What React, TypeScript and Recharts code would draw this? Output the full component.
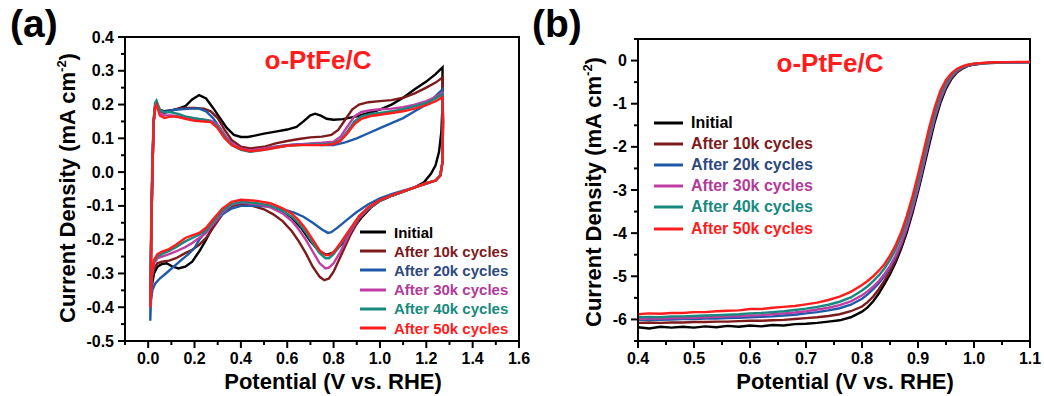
import React from 'react';
import { LineChart, Line, XAxis, YAxis, ReferenceArea } from 'recharts';

const FONT = '"Liberation Sans", Arial, Helvetica, sans-serif';

// ---------- series meta ----------
const seriesNames = ['Initial', 'After 10k cycles', 'After 20k cycles', 'After 30k cycles', 'After 40k cycles', 'After 50k cycles'];
const lineColors = ['#000000', '#7d1a1c', '#1f5aa8', '#c23ca4', '#17897e', '#ff1c1c'];
const textColors = ['#000000', '#7d1a1c', '#2c4a80', '#b23a9a', '#17897e', '#ff1c1c'];
const panelTitle = 'o-PtFe/C';

// ---------- tick values ----------
const cvXMajor = [0, 0.2, 0.4, 0.6, 0.8, 1.0, 1.2, 1.4, 1.6];
const cvXMinor = [-0.1, 0.1, 0.3, 0.5, 0.7, 0.9, 1.1, 1.3, 1.5];
const cvYMajor = [-0.5, -0.4, -0.3, -0.2, -0.1, 0, 0.1, 0.2, 0.3, 0.4];
const cvYMinor = [-0.45, -0.35, -0.25, -0.15, -0.05, 0.05, 0.15, 0.25, 0.35];
const lsvXMajor = [0.4, 0.5, 0.6, 0.7, 0.8, 0.9, 1.0, 1.1];
const lsvXMinor = [0.45, 0.55, 0.65, 0.75, 0.85, 0.95, 1.05];
const lsvYMajor = [-6, -5, -4, -3, -2, -1, 0];
const lsvYMinor = [-6.5, -5.5, -4.5, -3.5, -2.5, -1.5, -0.5, 0.5];

// ---------- (a) CV loops: [potential, current density] ----------
const cvInitial: [number, number][] = [
  [0.010, -0.39], [0.013, -0.2], [0.018, 0.0], [0.024, 0.15], [0.030, 0.195], [0.037, 0.2], [0.05, 0.185], [0.07, 0.18],
  [0.10, 0.183], [0.13, 0.188], [0.16, 0.195], [0.19, 0.215], [0.22, 0.228], [0.25, 0.218], [0.28, 0.19], [0.31, 0.16],
  [0.34, 0.13], [0.37, 0.11], [0.40, 0.104], [0.43, 0.104], [0.46, 0.108], [0.50, 0.114], [0.55, 0.12], [0.60, 0.126],
  [0.64, 0.134], [0.67, 0.15], [0.70, 0.168], [0.72, 0.173], [0.745, 0.167], [0.77, 0.158], [0.80, 0.155], [0.84, 0.157],
  [0.90, 0.165], [0.95, 0.175], [1.0, 0.185], [1.05, 0.2], [1.1, 0.22], [1.15, 0.245], [1.2, 0.268], [1.24, 0.29],
  [1.27, 0.31], [1.27, 0.2], [1.265, 0.12], [1.255, 0.06], [1.24, 0.02], [1.22, -0.005], [1.19, -0.03], [1.15, -0.045],
  [1.1, -0.058], [1.05, -0.07], [1.0, -0.085], [0.96, -0.105], [0.92, -0.135], [0.88, -0.17], [0.84, -0.21], [0.80, -0.238],
  [0.77, -0.245], [0.74, -0.235], [0.70, -0.205], [0.66, -0.165], [0.62, -0.135], [0.58, -0.115], [0.52, -0.1], [0.46, -0.092],
  [0.40, -0.09], [0.36, -0.1], [0.32, -0.125], [0.28, -0.16], [0.25, -0.2], [0.22, -0.235], [0.19, -0.265], [0.16, -0.28],
  [0.13, -0.285], [0.10, -0.278], [0.08, -0.27], [0.06, -0.272], [0.04, -0.28], [0.025, -0.3], [0.015, -0.34], [0.010, -0.39],
];
const cv10k: [number, number][] = [
  [0.010, -0.38], [0.013, -0.2], [0.018, 0.0], [0.024, 0.15], [0.030, 0.19], [0.036, 0.2], [0.05, 0.18], [0.07, 0.175],
  [0.10, 0.182], [0.13, 0.188], [0.16, 0.19], [0.20, 0.19], [0.24, 0.188], [0.27, 0.18], [0.30, 0.16], [0.33, 0.125],
  [0.36, 0.095], [0.40, 0.075], [0.44, 0.07], [0.50, 0.075], [0.55, 0.085], [0.60, 0.092], [0.65, 0.098], [0.70, 0.103],
  [0.75, 0.105], [0.79, 0.11], [0.82, 0.125], [0.85, 0.155], [0.88, 0.185], [0.91, 0.2], [0.95, 0.207], [1.0, 0.21],
  [1.05, 0.213], [1.1, 0.22], [1.15, 0.233], [1.2, 0.25], [1.24, 0.265], [1.27, 0.28], [1.272, 0.15], [1.27, 0.03],
  [1.262, -0.01], [1.24, -0.025], [1.2, -0.033], [1.15, -0.045], [1.1, -0.058], [1.05, -0.07], [1.0, -0.085], [0.95, -0.11],
  [0.91, -0.14], [0.87, -0.19], [0.83, -0.25], [0.80, -0.295], [0.78, -0.315], [0.76, -0.32], [0.74, -0.31], [0.71, -0.28],
  [0.68, -0.24], [0.65, -0.205], [0.62, -0.175], [0.58, -0.145], [0.54, -0.125], [0.50, -0.11], [0.45, -0.1], [0.40, -0.095],
  [0.36, -0.1], [0.32, -0.125], [0.28, -0.165], [0.25, -0.195], [0.22, -0.215], [0.19, -0.23], [0.16, -0.24], [0.12, -0.255],
  [0.09, -0.262], [0.06, -0.265], [0.04, -0.27], [0.025, -0.285], [0.015, -0.32], [0.010, -0.38],
];
const cv20k: [number, number][] = [
  [0.009, -0.44], [0.012, -0.2], [0.017, 0.0], [0.023, 0.15], [0.030, 0.195], [0.036, 0.205], [0.05, 0.18], [0.07, 0.178],
  [0.10, 0.183], [0.14, 0.186], [0.18, 0.188], [0.22, 0.188], [0.25, 0.18], [0.28, 0.16], [0.31, 0.13], [0.34, 0.1],
  [0.37, 0.08], [0.40, 0.068], [0.44, 0.062], [0.50, 0.068], [0.55, 0.075], [0.60, 0.08], [0.65, 0.083], [0.70, 0.083],
  [0.75, 0.08], [0.80, 0.08], [0.85, 0.088], [0.90, 0.1], [0.95, 0.115], [1.0, 0.13], [1.05, 0.145], [1.1, 0.16],
  [1.15, 0.18], [1.2, 0.2], [1.24, 0.225], [1.27, 0.245], [1.272, 0.15], [1.27, 0.03], [1.26, -0.01], [1.24, -0.025],
  [1.2, -0.035], [1.15, -0.045], [1.1, -0.055], [1.05, -0.065], [1.0, -0.078], [0.95, -0.095], [0.9, -0.118], [0.86, -0.14],
  [0.82, -0.163], [0.79, -0.178], [0.775, -0.18], [0.75, -0.17], [0.71, -0.15], [0.67, -0.132], [0.63, -0.12], [0.58, -0.11],
  [0.52, -0.102], [0.46, -0.1], [0.40, -0.1], [0.36, -0.108], [0.32, -0.125], [0.28, -0.15], [0.25, -0.175], [0.22, -0.2],
  [0.2, -0.225], [0.17, -0.245], [0.14, -0.262], [0.11, -0.28], [0.08, -0.298], [0.05, -0.315], [0.03, -0.33], [0.018, -0.35],
  [0.012, -0.38], [0.009, -0.44],
];
const cv30k: [number, number][] = [
  [0.010, -0.4], [0.013, -0.2], [0.018, 0.0], [0.024, 0.15], [0.030, 0.195], [0.036, 0.205], [0.05, 0.175], [0.07, 0.168],
  [0.10, 0.168], [0.13, 0.165], [0.16, 0.16], [0.20, 0.158], [0.24, 0.155], [0.27, 0.152], [0.30, 0.14], [0.33, 0.11],
  [0.36, 0.085], [0.40, 0.07], [0.44, 0.064], [0.50, 0.07], [0.55, 0.075], [0.60, 0.08], [0.65, 0.082], [0.70, 0.085],
  [0.75, 0.087], [0.80, 0.09], [0.83, 0.105], [0.86, 0.135], [0.89, 0.165], [0.92, 0.178], [0.96, 0.183], [1.0, 0.186],
  [1.05, 0.188], [1.1, 0.192], [1.15, 0.2], [1.2, 0.21], [1.24, 0.222], [1.27, 0.235], [1.272, 0.15], [1.27, 0.03],
  [1.26, -0.01], [1.24, -0.025], [1.2, -0.033], [1.15, -0.045], [1.1, -0.058], [1.05, -0.07], [1.0, -0.085], [0.95, -0.108],
  [0.91, -0.135], [0.87, -0.18], [0.83, -0.235], [0.80, -0.27], [0.78, -0.283], [0.765, -0.285], [0.74, -0.27], [0.71, -0.235],
  [0.68, -0.2], [0.65, -0.17], [0.62, -0.145], [0.58, -0.122], [0.53, -0.105], [0.47, -0.095], [0.40, -0.09], [0.36, -0.097],
  [0.32, -0.12], [0.28, -0.155], [0.25, -0.18], [0.22, -0.195], [0.19, -0.21], [0.16, -0.222], [0.12, -0.235], [0.09, -0.243],
  [0.06, -0.25], [0.04, -0.255], [0.025, -0.27], [0.015, -0.31], [0.010, -0.4],
];
const cv40k: [number, number][] = [
  [0.010, -0.39], [0.013, -0.2], [0.018, 0.0], [0.024, 0.16], [0.030, 0.205], [0.036, 0.212], [0.05, 0.185], [0.07, 0.178],
  [0.10, 0.177], [0.13, 0.172], [0.16, 0.165], [0.20, 0.16], [0.24, 0.155], [0.27, 0.15], [0.30, 0.135], [0.33, 0.105],
  [0.36, 0.08], [0.40, 0.066], [0.44, 0.06], [0.50, 0.066], [0.55, 0.073], [0.60, 0.078], [0.65, 0.08], [0.70, 0.082],
  [0.75, 0.083], [0.80, 0.085], [0.83, 0.095], [0.86, 0.12], [0.89, 0.15], [0.92, 0.165], [0.96, 0.172], [1.0, 0.175],
  [1.05, 0.18], [1.1, 0.186], [1.15, 0.195], [1.2, 0.205], [1.24, 0.218], [1.27, 0.23], [1.272, 0.15], [1.27, 0.03],
  [1.26, -0.01], [1.24, -0.025], [1.2, -0.033], [1.15, -0.045], [1.1, -0.058], [1.05, -0.07], [1.0, -0.085], [0.95, -0.106],
  [0.91, -0.132], [0.87, -0.172], [0.83, -0.215], [0.80, -0.243], [0.78, -0.255], [0.765, -0.255], [0.74, -0.24], [0.71, -0.21],
  [0.68, -0.178], [0.65, -0.152], [0.62, -0.132], [0.58, -0.115], [0.53, -0.1], [0.47, -0.092], [0.40, -0.088], [0.36, -0.095],
  [0.32, -0.115], [0.28, -0.148], [0.25, -0.172], [0.22, -0.185], [0.19, -0.195], [0.16, -0.205], [0.12, -0.222], [0.09, -0.233],
  [0.06, -0.242], [0.04, -0.25], [0.025, -0.265], [0.015, -0.3], [0.010, -0.39],
];
const cv50k: [number, number][] = [
  [0.010, -0.4], [0.013, -0.2], [0.018, 0.0], [0.024, 0.15], [0.030, 0.192], [0.036, 0.2], [0.05, 0.168], [0.07, 0.16],
  [0.10, 0.165], [0.13, 0.163], [0.16, 0.158], [0.20, 0.152], [0.24, 0.15], [0.27, 0.148], [0.30, 0.13], [0.33, 0.1],
  [0.36, 0.08], [0.40, 0.068], [0.44, 0.062], [0.50, 0.066], [0.55, 0.072], [0.60, 0.078], [0.65, 0.08], [0.70, 0.08],
  [0.75, 0.08], [0.80, 0.083], [0.83, 0.093], [0.86, 0.115], [0.89, 0.142], [0.92, 0.158], [0.96, 0.166], [1.0, 0.17],
  [1.05, 0.175], [1.1, 0.18], [1.15, 0.188], [1.2, 0.198], [1.24, 0.21], [1.27, 0.222], [1.272, 0.15], [1.27, 0.03],
  [1.26, -0.01], [1.24, -0.025], [1.2, -0.033], [1.15, -0.045], [1.1, -0.057], [1.05, -0.069], [1.0, -0.083], [0.95, -0.104],
  [0.91, -0.13], [0.87, -0.17], [0.83, -0.21], [0.80, -0.237], [0.78, -0.246], [0.765, -0.245], [0.74, -0.232], [0.71, -0.2],
  [0.68, -0.168], [0.65, -0.143], [0.62, -0.123], [0.58, -0.107], [0.53, -0.093], [0.47, -0.085], [0.40, -0.082], [0.36, -0.088],
  [0.32, -0.108], [0.28, -0.14], [0.25, -0.165], [0.22, -0.18], [0.19, -0.187], [0.16, -0.195], [0.12, -0.215], [0.09, -0.228],
  [0.06, -0.235], [0.04, -0.243], [0.025, -0.26], [0.015, -0.3], [0.010, -0.4],
];

// ---------- (b) LSV curves ----------
const lsvX = [
  0.40, 0.42, 0.44, 0.46, 0.48, 0.50, 0.52, 0.54, 0.56, 0.58, 0.60, 0.62, 0.64, 0.66, 0.68, 0.70, 0.72, 0.74, 0.76, 0.78,
  0.80, 0.81, 0.82, 0.83, 0.84, 0.85, 0.86, 0.87, 0.88, 0.89, 0.90, 0.91, 0.92, 0.93, 0.94, 0.95, 0.96, 0.97, 0.98, 0.99, 1.00,
  1.02, 1.04, 1.06, 1.08, 1.10,
];
const lsvInitial = [
  -6.18, -6.21, -6.17, -6.19, -6.17, -6.19, -6.16, -6.18, -6.15, -6.17, -6.14, -6.16, -6.13, -6.14, -6.11, -6.10, -6.08, -6.05, -6.02, -5.95,
  -5.82, -5.72, -5.58, -5.40, -5.18, -4.95, -4.68, -4.36, -3.98, -3.54, -3.04, -2.50, -1.95, -1.42, -0.98, -0.65, -0.42, -0.27, -0.18, -0.12, -0.09,
  -0.06, -0.045, -0.04, -0.035, -0.035,
];
const lsv10k = [
  -6.08, -6.07, -6.08, -6.07, -6.07, -6.06, -6.06, -6.05, -6.05, -6.04, -6.03, -6.03, -6.02, -6.01, -5.99, -5.97, -5.95, -5.92, -5.88, -5.81,
  -5.70, -5.60, -5.47, -5.30, -5.10, -4.88, -4.62, -4.30, -3.92, -3.47, -2.96, -2.40, -1.85, -1.34, -0.92, -0.61, -0.40, -0.26, -0.17, -0.12, -0.09,
  -0.06, -0.05, -0.04, -0.04, -0.035,
];
const lsv20k = [
  -6.01, -6.00, -6.01, -6.00, -5.99, -5.99, -5.98, -5.98, -5.97, -5.96, -5.95, -5.94, -5.93, -5.91, -5.89, -5.86, -5.83, -5.79, -5.74, -5.66,
  -5.52, -5.42, -5.30, -5.16, -4.99, -4.79, -4.55, -4.25, -3.88, -3.44, -2.95, -2.40, -1.84, -1.32, -0.90, -0.58, -0.37, -0.24, -0.16, -0.11, -0.08,
  -0.06, -0.05, -0.04, -0.04, -0.035,
];
const lsv30k = [
  -5.99, -5.98, -5.98, -5.97, -5.97, -5.96, -5.95, -5.94, -5.93, -5.92, -5.91, -5.90, -5.88, -5.86, -5.84, -5.81, -5.77, -5.73, -5.67, -5.58,
  -5.44, -5.35, -5.24, -5.11, -4.95, -4.76, -4.52, -4.22, -3.86, -3.42, -2.93, -2.38, -1.82, -1.30, -0.88, -0.57, -0.36, -0.23, -0.15, -0.11, -0.08,
  -0.06, -0.05, -0.04, -0.04, -0.035,
];
const lsv40k = [
  -5.95, -5.94, -5.95, -5.93, -5.93, -5.92, -5.91, -5.90, -5.89, -5.88, -5.86, -5.85, -5.83, -5.81, -5.78, -5.75, -5.71, -5.66, -5.59, -5.49,
  -5.33, -5.23, -5.11, -4.98, -4.82, -4.62, -4.38, -4.08, -3.72, -3.28, -2.80, -2.25, -1.70, -1.20, -0.80, -0.52, -0.33, -0.21, -0.14, -0.10, -0.075,
  -0.055, -0.045, -0.04, -0.035, -0.035,
];
const lsv50k = [
  -5.88, -5.86, -5.87, -5.85, -5.85, -5.83, -5.83, -5.81, -5.80, -5.79, -5.76, -5.76, -5.73, -5.71, -5.69, -5.65, -5.61, -5.55, -5.47, -5.36,
  -5.20, -5.11, -5.00, -4.87, -4.72, -4.52, -4.28, -3.98, -3.60, -3.15, -2.65, -2.10, -1.55, -1.08, -0.70, -0.45, -0.29, -0.19, -0.13, -0.09, -0.07,
  -0.05, -0.04, -0.035, -0.03, -0.03,
];

const cvSeries = [cvInitial, cv10k, cv20k, cv30k, cv40k, cv50k];
const lsvSeries = [lsvInitial, lsv10k, lsv20k, lsv30k, lsv40k, lsv50k];

const cvData = cvSeries.map((s) => s.map(([x, y]) => ({ x, y })));
const lsvData = lsvX.map((x, i) => {
  const row: Record<string, number> = { x };
  lsvSeries.forEach((s, k) => {
    row['s' + k] = s[i];
  });
  return row;
});

const isIn = (arr: number[], v: number) => arr.some((m) => Math.abs(m - v) < 1e-6);

function makeXTick(majors: number[], fmt: (v: number) => string) {
  return (props: any) => {
    const { x, y, payload } = props;
    const v = payload.value;
    const major = isIn(majors, v);
    return (
      <g>
        <line x1={x} x2={x} y1={y} y2={y + (major ? 7 : 4)} stroke="#000" strokeWidth={2} />
        {major && (
          <text x={x} y={y + 23} textAnchor="middle" fontFamily={FONT} fontWeight="bold" fontSize={16} fill="#000">
            {fmt(v)}
          </text>
        )}
      </g>
    );
  };
}

function makeYTick(majors: number[], fmt: (v: number) => string) {
  return (props: any) => {
    const { x, y, payload } = props;
    const v = payload.value;
    const major = isIn(majors, v);
    return (
      <g>
        <line x1={x} x2={x - (major ? 7 : 4)} y1={y} y2={y} stroke="#000" strokeWidth={2} />
        {major && (
          <text x={x - 11} y={y + 5.5} textAnchor="end" fontFamily={FONT} fontWeight="bold" fontSize={16} fill="#000">
            {fmt(v)}
          </text>
        )}
      </g>
    );
  };
}

const fmt1 = (v: number) => (Math.abs(v) < 1e-9 ? '0.0' : v.toFixed(1));
const fmt0 = (v: number) => (Math.abs(v) < 1e-9 ? '0' : String(Math.round(v)));

const abs = (left: number, top: number): React.CSSProperties => ({ position: 'absolute', left, top });

function Legend({ left, top, gap, fontSize, lineLen }: { left: number; top: number; gap: number; fontSize: number; lineLen: number }) {
  return (
    <>
      {seriesNames.map((n, i) => (
        <div
          key={n}
          style={{
            ...abs(left, top + i * gap - 10),
            height: 20,
            display: 'flex',
            alignItems: 'center',
            whiteSpace: 'nowrap',
            fontFamily: FONT,
            fontWeight: 'bold',
            fontSize,
            color: textColors[i],
          }}
        >
          <svg width={lineLen} height={4} style={{ display: 'block' }}>
            <line x1={0} x2={lineLen} y1={2} y2={2} stroke={lineColors[i]} strokeWidth={3} />
          </svg>
          <span style={{ marginLeft: 8 }}>{n}</span>
        </div>
      ))}
    </>
  );
}

function YTitle({ cx, cy }: { cx: number; cy: number }) {
  return (
    <div
      style={{
        ...abs(cx, cy),
        transform: 'translate(-50%, -50%) rotate(-90deg)',
        whiteSpace: 'nowrap',
        fontFamily: FONT,
        fontWeight: 'bold',
        fontSize: 22,
        lineHeight: '26px',
      }}
    >
      Current Density (mA cm<span style={{ fontSize: 13, position: 'relative', top: -9 }}>-2</span>)
    </div>
  );
}

function XTitle({ cx, top }: { cx: number; top: number }) {
  return (
    <div
      style={{
        ...abs(cx, top),
        transform: 'translateX(-50%)',
        whiteSpace: 'nowrap',
        fontFamily: FONT,
        fontWeight: 'bold',
        fontSize: 22,
        lineHeight: '26px',
      }}
    >
      Potential (V vs. RHE)
    </div>
  );
}

function Title({ cx, top }: { cx: number; top: number }) {
  return (
    <div
      style={{
        ...abs(cx, top),
        transform: 'translateX(-50%)',
        whiteSpace: 'nowrap',
        fontFamily: FONT,
        fontWeight: 'bold',
        fontSize: 26,
        lineHeight: '30px',
        color: '#ff1c1c',
      }}
    >
      {panelTitle}
    </div>
  );
}

function PanelLabel({ left, text }: { left: number; text: string }) {
  return (
    <div style={{ ...abs(left, 1), fontFamily: FONT, fontWeight: 'bold', fontSize: 39, lineHeight: '46px' }}>{text}</div>
  );
}

export default function App() {
  return (
    <div style={{ position: 'absolute', left: 0, top: 0, width: 1044, height: 396, background: '#fff', overflow: 'hidden' }}>
      {/* Panel (a) */}
      <div style={{ ...abs(0, 0) }}>
        <LineChart width={545} height={396} margin={{ top: 37, right: 26, bottom: 15, left: 75 }}>
          <XAxis
            type="number"
            dataKey="x"
            domain={[-0.1, 1.6]}
            ticks={[...cvXMajor, ...cvXMinor].sort((a, b) => a - b)}
            interval={0}
            height={40}
            tickSize={0}
            tickMargin={0}
            tickLine={false}
            axisLine={{ stroke: '#000', strokeWidth: 2 }}
            tick={makeXTick(cvXMajor, fmt1)}
            allowDataOverflow
          />
          <YAxis
            type="number"
            domain={[-0.5, 0.4]}
            ticks={[...cvYMajor, ...cvYMinor].sort((a, b) => a - b)}
            interval={0}
            width={50}
            tickSize={0}
            tickMargin={0}
            tickLine={false}
            axisLine={{ stroke: '#000', strokeWidth: 2 }}
            tick={makeYTick(cvYMajor, fmt1)}
            allowDataOverflow
          />
          <ReferenceArea x1={-0.1} x2={1.6} y1={-0.5} y2={0.4} fill="none" stroke="#000" strokeWidth={2} ifOverflow="visible" />
          {cvData.map((d, i) => (
            <Line
              key={seriesNames[i]}
              data={d}
              dataKey="y"
              type="linear"
              stroke={lineColors[i]}
              strokeWidth={2.4}
              dot={false}
              isAnimationActive={false}
            />
          ))}
        </LineChart>
      </div>

      {/* Panel (b) */}
      <div style={{ ...abs(520, 0) }}>
        <LineChart width={524} height={396} data={lsvData} margin={{ top: 39, right: 14, bottom: 15, left: 68 }}>
          <XAxis
            type="number"
            dataKey="x"
            domain={[0.4, 1.1]}
            ticks={[...lsvXMajor, ...lsvXMinor].sort((a, b) => a - b)}
            interval={0}
            height={40}
            tickSize={0}
            tickMargin={0}
            tickLine={false}
            axisLine={{ stroke: '#000', strokeWidth: 2 }}
            tick={makeXTick(lsvXMajor, fmt1)}
            allowDataOverflow
          />
          <YAxis
            type="number"
            domain={[-6.5, 0.5]}
            ticks={[...lsvYMajor, ...lsvYMinor].sort((a, b) => a - b)}
            interval={0}
            width={50}
            tickSize={0}
            tickMargin={0}
            tickLine={false}
            axisLine={{ stroke: '#000', strokeWidth: 2 }}
            tick={makeYTick(lsvYMajor, fmt0)}
            allowDataOverflow
          />
          <ReferenceArea x1={0.4} x2={1.1} y1={-6.5} y2={0.5} fill="none" stroke="#000" strokeWidth={2} ifOverflow="visible" />
          {lsvSeries.map((_, i) => (
            <Line
              key={seriesNames[i]}
              dataKey={'s' + i}
              type="linear"
              stroke={lineColors[i]}
              strokeWidth={2.4}
              dot={false}
              isAnimationActive={false}
            />
          ))}
        </LineChart>
      </div>

      <PanelLabel left={10} text="(a)" />
      <PanelLabel left={532} text="(b)" />
      <Title cx={318} top={45} />
      <Title cx={830} top={48} />
      <YTitle cx={69} cy={188} />
      <YTitle cx={595} cy={192} />
      <XTitle cx={333} top={369} />
      <XTitle cx={845} top={369} />
      <Legend left={360} top={232} gap={19.2} fontSize={15} lineLen={26} />
      <Legend left={654} top={123} gap={21.1} fontSize={16} lineLen={29} />
    </div>
  );
}
